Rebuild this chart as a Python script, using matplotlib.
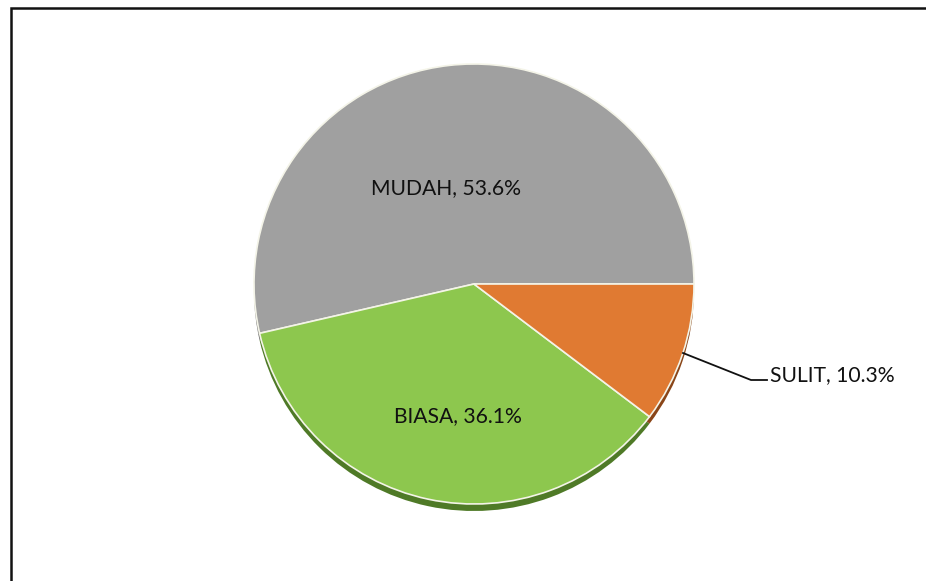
import matplotlib

matplotlib.use("Agg")
import matplotlib.pyplot as plt
from matplotlib.patches import Rectangle

plt.rcParams["font.family"] = ["Lato", "DejaVu Sans"]

labels = ["MUDAH", "BIASA", "SULIT"]
values = [53.6, 36.1, 10.3]
colors = ["#A0A0A0", "#8DC74E", "#E07A32"]
shadow_colors = ["#6E6E6E", "#4F7A27", "#8A4518"]

W, H = 926, 581
fig = plt.figure(figsize=(W / 100, H / 100), dpi=100)
ax = fig.add_axes([0, 0, 1, 1])

# outer chart frame (only top and left edges fall inside the crop)
ax.add_patch(Rectangle((10.5, -20), W + 40, H - 7.5 + 20, fill=False, edgecolor="#111111", linewidth=1.8))

cx, cy, r = 474, H - 284, 220

# soft "3D" shadow under the pie
ax.pie(values, colors=shadow_colors, startangle=0, counterclock=True,
       center=(cx, cy - 7), radius=r, frame=True,
       wedgeprops=dict(linewidth=0))

wedges, _ = ax.pie(values, colors=colors, startangle=0, counterclock=True,
                   center=(cx, cy), radius=r, frame=True,
                   wedgeprops=dict(linewidth=1.2, edgecolor="#F4F4E8"))
ax.set_xlim(0, W)
ax.set_ylim(0, H)
ax.set_aspect("equal")
ax.axis("off")

lab = [f"{l}, {v}%" for l, v in zip(labels, values)]
ax.text(446, H - 188, lab[0], ha="center", va="center", fontsize=15.2, color="#111111")
ax.text(458, H - 416, lab[1], ha="center", va="center", fontsize=15.2, color="#111111")
ax.plot([683, 751, 767], [H - 353, H - 380, H - 380], color="#111111", linewidth=1.3)
ax.text(770, H - 375, lab[2], ha="left", va="center", fontsize=15.2, color="#111111")

fig.savefig("out.png", dpi=100, facecolor="white")
